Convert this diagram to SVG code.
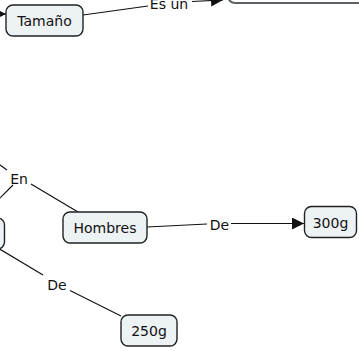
<svg xmlns="http://www.w3.org/2000/svg" width="359" height="351" viewBox="0 0 359 351">
<style>
.node{fill:#edf2f5;stroke:#222;stroke-width:1.4}
.big{fill:#ffffff;stroke:#5c6165;stroke-width:2}
.t{font-family:"DejaVu Sans",Verdana,sans-serif;font-size:14px;fill:#111;text-anchor:middle}
.c line{stroke:#111;stroke-width:1.2;fill:none}
</style>
<defs>
<marker id="ah" viewBox="0 0 12 12" refX="12" refY="6" markerWidth="12" markerHeight="12" markerUnits="userSpaceOnUse" orient="auto">
<path d="M0,0 L12,6 L0,12 Z" fill="#111"/>
</marker>
</defs>
<rect width="359" height="351" fill="#ffffff"/>
<g id="connectors" class="c">
<line x1="-12" y1="14" x2="6" y2="14" marker-end="url(#ah)"/>
<line x1="83" y1="15" x2="148" y2="6"/>
<line x1="192" y1="1.5" x2="223" y2="0" marker-end="url(#ah)"/>
<line x1="-4" y1="162" x2="7" y2="170"/>
<line x1="13" y1="185" x2="-8" y2="206"/>
<line x1="31" y1="184" x2="78" y2="212"/>
<line x1="-2" y1="248" x2="43" y2="275"/>
<line x1="70" y1="290.5" x2="121" y2="316"/>
<line x1="147" y1="227" x2="207" y2="224"/>
<line x1="231" y1="223.5" x2="304" y2="223.5" marker-end="url(#ah)"/>
</g>
<g id="big-node"><rect class="big" x="228" y="-30" width="150" height="33" rx="7"/></g>
<g id="tamano"><rect class="node" x="6" y="5" width="77" height="31" rx="7"/><text class="t" x="44.5" y="26">Tamaño</text></g>
<g id="left-node"><rect class="node" x="-60" y="218" width="64.5" height="31" rx="7"/></g>
<g id="hombres"><rect class="node" x="63" y="212" width="84" height="31" rx="7"/><text class="t" x="105" y="233">Hombres</text></g>
<g id="n300"><rect class="node" x="304.5" y="206.5" width="52" height="31" rx="7"/><text class="t" x="330.5" y="228">300g</text></g>
<g id="n250"><rect class="node" x="121" y="315" width="56" height="31" rx="7"/><text class="t" x="149" y="336">250g</text></g>
<g id="labels">
<text class="t" x="169" y="8.5">Es un</text>
<text class="t" x="19" y="183.5">En</text>
<text class="t" x="219.5" y="229.5">De</text>
<text class="t" x="57" y="289.5">De</text>
</g>
</svg>
